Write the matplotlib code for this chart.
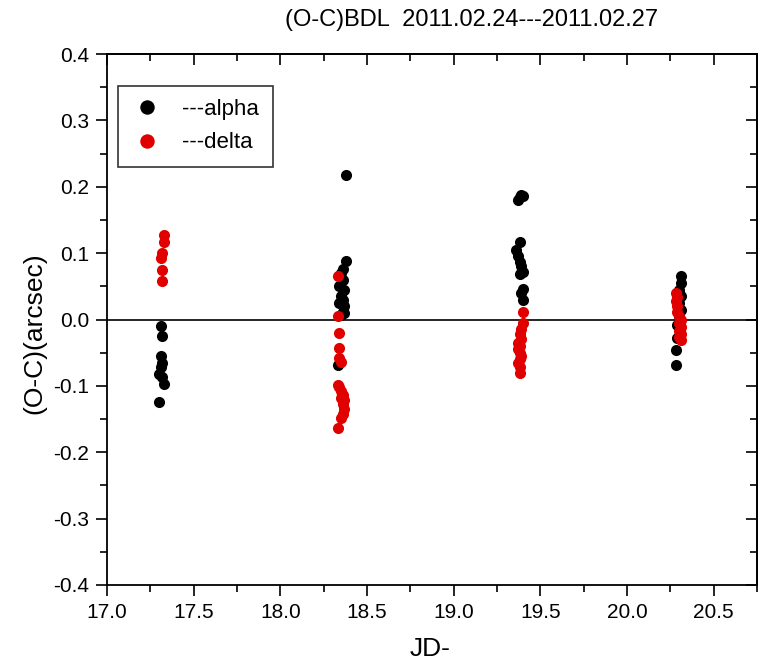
import matplotlib.pyplot as plt
from matplotlib.ticker import MultipleLocator, FormatStrFormatter

plt.rcParams['font.family'] = ['Liberation Sans', 'DejaVu Sans']

# alpha residuals (JD-, O-C arcsec)
alpha_jd = [17.31, 17.32, 17.31, 17.32, 17.31, 17.30, 17.32, 17.33, 17.30,
            18.38, 18.38, 18.36, 18.35, 18.36, 18.34, 18.37, 18.35, 18.36, 18.34,
            18.37, 18.36, 18.35, 18.37, 18.33,
            19.39, 19.38, 19.40, 19.37, 19.38, 19.36, 19.37, 19.38, 19.39, 19.40,
            19.38, 19.40, 19.39, 19.40,
            20.31, 20.31, 20.30, 20.31, 20.30, 20.31, 20.30, 20.29, 20.29, 20.28,
            20.28]
alpha_oc = [-0.010, -0.025, -0.055, -0.065, -0.072, -0.082, -0.087, -0.097, -0.124,
            0.218, 0.088, 0.076, 0.070, 0.060, 0.050, 0.045, 0.035, 0.030, 0.025,
            0.020, 0.012, 0.007, 0.010, -0.068,
            0.188, 0.184, 0.186, 0.180, 0.117, 0.105, 0.095, 0.087, 0.080, 0.072,
            0.068, 0.046, 0.040, 0.030,
            0.065, 0.055, 0.045, 0.035, 0.025, 0.015, 0.005, -0.008, -0.028, -0.046,
            -0.068]

# delta residuals
delta_jd = [17.33, 17.33, 17.32, 17.31, 17.32, 17.32,
            18.33, 18.33, 18.34, 18.34, 18.34, 18.35, 18.33, 18.34, 18.35, 18.36,
            18.35, 18.37, 18.36, 18.37, 18.36, 18.35, 18.33,
            19.40, 19.40, 19.39, 19.38, 19.39, 19.37, 19.38, 19.37, 19.38, 19.39,
            19.38, 19.37, 19.38, 19.38,
            20.28, 20.29, 20.28, 20.29, 20.29, 20.30, 20.31, 20.30, 20.31, 20.30,
            20.31, 20.30, 20.31]
delta_oc = [0.128, 0.117, 0.100, 0.093, 0.075, 0.058,
            0.066, 0.006, -0.020, -0.043, -0.058, -0.064, -0.098, -0.102, -0.108,
            -0.113, -0.118, -0.122, -0.128, -0.135, -0.142, -0.148, -0.164,
            0.012, -0.005, -0.015, -0.022, -0.030, -0.035, -0.040, -0.045, -0.050,
            -0.055, -0.060, -0.066, -0.072, -0.080,
            0.040, 0.034, 0.028, 0.020, 0.012, 0.005, 0.000, -0.006, -0.012, -0.018,
            -0.022, -0.027, -0.031]

fig = plt.figure(figsize=(7.61, 6.65), dpi=100)
ax = fig.add_axes([107 / 761, 1 - 585 / 665, 650 / 761, 531 / 665])

ax.axhline(0, color='black', lw=1.2, zorder=1)
ax.plot(alpha_jd, alpha_oc, 'o', color='black', ms=8, mec='none', label='---alpha', zorder=2)
ax.plot(delta_jd, delta_oc, 'o', color='#e00000', ms=8, mec='none', label='---delta', zorder=3)

ax.set_xlim(17.0, 20.75)
ax.set_ylim(-0.4, 0.4)
ax.xaxis.set_major_locator(MultipleLocator(0.5))
ax.xaxis.set_minor_locator(MultipleLocator(0.25))
ax.yaxis.set_major_locator(MultipleLocator(0.1))
ax.yaxis.set_minor_locator(MultipleLocator(0.05))
ax.xaxis.set_major_formatter(FormatStrFormatter('%.1f'))
ax.yaxis.set_major_formatter(FormatStrFormatter('%.1f'))
ax.tick_params(which='both', direction='out', width=1.2, labelsize=15)
ax.tick_params(which='major', length=8, pad=5)
ax.tick_params(which='minor', length=5)

# top and right axes: ticks pointing inward, no labels
top = ax.secondary_xaxis('top')
top.xaxis.set_major_locator(MultipleLocator(0.5))
top.xaxis.set_minor_locator(MultipleLocator(0.25))
top.tick_params(which='both', direction='in', width=1.2, labeltop=False)
top.tick_params(which='major', length=8)
top.tick_params(which='minor', length=5)
right = ax.secondary_yaxis('right')
right.yaxis.set_major_locator(MultipleLocator(0.1))
right.yaxis.set_minor_locator(MultipleLocator(0.05))
right.tick_params(which='both', direction='in', width=1.2, labelright=False)
right.tick_params(which='major', length=8)
right.tick_params(which='minor', length=5)
for a in (ax, top, right):
    for sp in a.spines.values():
        sp.set_linewidth(1.3)

ax.set_xlabel('JD-', fontsize=19)
ax.xaxis.set_label_coords(0.497, -0.098)
ax.set_ylabel('(O-C)(arcsec)', fontsize=19)
ax.yaxis.set_label_coords(-0.093, 0.475)

leg = ax.legend(loc='upper left', bbox_to_anchor=(0.017, 0.94), borderaxespad=0,
                fontsize=16, frameon=True, fancybox=False, edgecolor='black',
                handletextpad=0.9, handlelength=1.4, borderpad=0.6, labelspacing=0.55,
                markerscale=1.3)
leg.get_frame().set_linewidth(1.2)

fig.text(472 / 761, 1 - 20 / 665, '(O-C)BDL  2011.02.24---2011.02.27', fontsize=17,
         ha='center', va='center')

fig.savefig('out.png', dpi=100)
